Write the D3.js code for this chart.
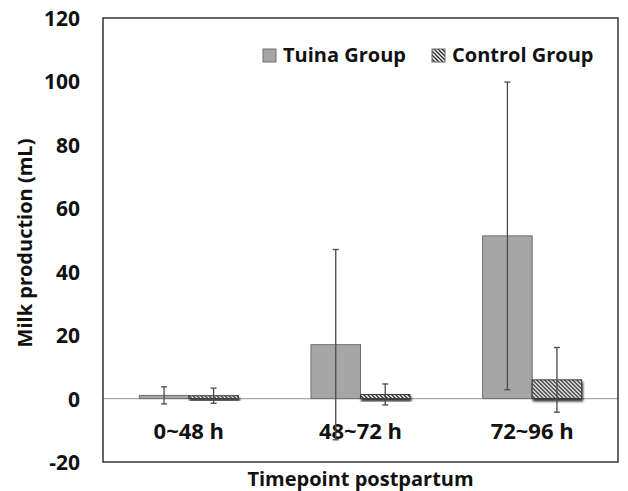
<!DOCTYPE html>
<html>
<head>
<meta charset="utf-8">
<script src="https://cdn.jsdelivr.net/npm/d3@7"></script>
<style>
  body { margin: 0; background: #fff; }
  svg text { font-family: "Open Sans", "Noto Sans", sans-serif; font-weight: bold; fill: #111; }
</style>
</head>
<body>
<svg width="628" height="491"></svg>
<script>
var categories = ["0~48 h", "48~72 h", "72~96 h"];
var groups = ["Tuina Group", "Control Group"];
var tuinaMean = [1.0, 17.0, 51.3];
var tuinaSD = [2.7, 30.0, 48.5];
var controlMean = [0.9, 1.3, 5.9];
var controlSD = [2.4, 3.3, 10.2];
var yTicks = [-20, 0, 20, 40, 60, 80, 100, 120];

var svg = d3.select("svg"),
    margin = {top: 18, right: 10, bottom: 29, left: 103},
    width = +svg.attr("width") - margin.left - margin.right,
    height = +svg.attr("height") - margin.top - margin.bottom;

var defs = svg.append("defs");

// diagonal hatch for the control bars
var hatch = defs.append("pattern")
    .attr("id", "hatch")
    .attr("patternUnits", "userSpaceOnUse")
    .attr("width", 4)
    .attr("height", 4);
hatch.append("rect").attr("width", 4).attr("height", 4).attr("fill", "#fff");
hatch.append("path")
    .attr("d", "M-1,-1 L5,5 M3,-1 L5,1 M-1,3 L1,5")
    .attr("stroke", "#2a2a2a")
    .attr("stroke-width", 1.4);

var shadow = defs.append("filter")
    .attr("id", "shadow")
    .attr("x", "-20%").attr("y", "-20%")
    .attr("width", "140%").attr("height", "180%");
shadow.append("feDropShadow")
    .attr("dx", 1).attr("dy", 2.5)
    .attr("stdDeviation", 1)
    .attr("flood-color", "#000")
    .attr("flood-opacity", 0.8);

var x0 = d3.scaleBand()
    .domain(categories)
    .range([0, width])
    .paddingInner(0.423)
    .paddingOuter(0.2115);

var x1 = d3.scaleBand()
    .domain(groups)
    .range([0, x0.bandwidth()]);

var y = d3.scaleLinear()
    .domain([-20, 120])
    .range([height, 0]);

var g = svg.append("g")
    .attr("transform", "translate(" + margin.left + "," + margin.top + ")");

// y axis labels (no tick marks), plain hyphen for negatives
var yAxis = d3.axisLeft(y)
    .tickValues(yTicks)
    .tickFormat(function(d) { return String(d); })
    .tickSize(0)
    .tickPadding(23);
g.append("g")
    .attr("class", "axis axis--y")
    .call(yAxis)
    .call(function(s) { s.select(".domain").remove(); })
    .selectAll("text")
    .style("font-size", "21px")
    .attr("dy", "0.36em");

// zero line
g.append("line")
    .attr("x1", 0).attr("x2", width)
    .attr("y1", y(0)).attr("y2", y(0))
    .attr("stroke", "#a8a8a8")
    .attr("stroke-width", 1.3);

var rows = categories.map(function(c, i) {
  return [
    {cat: c, group: groups[0], mean: tuinaMean[i], sd: tuinaSD[i]},
    {cat: c, group: groups[1], mean: controlMean[i], sd: controlSD[i]}
  ];
});

// category labels
g.append("g")
    .selectAll("text")
    .data(categories)
    .enter().append("text")
    .attr("x", function(d) { return x0(d) + x0.bandwidth() / 2; })
    .attr("y", y(0) + 40)
    .attr("text-anchor", "middle")
    .style("font-size", "22px")
    .text(function(d) { return d; });

var cat = g.selectAll(".cat")
    .data(rows)
    .enter().append("g")
    .attr("class", "cat")
    .attr("transform", function(d) { return "translate(" + x0(d[0].cat) + ",0)"; });

cat.selectAll("rect")
    .data(function(d) { return d; })
    .enter().append("rect")
    .attr("x", function(d) { return x1(d.group); })
    .attr("y", function(d) { return y(Math.max(0, d.mean)); })
    .attr("width", x1.bandwidth())
    .attr("height", function(d) { return Math.abs(y(d.mean) - y(0)); })
    .attr("fill", function(d) { return d.group === groups[0] ? "#a6a6a6" : "url(#hatch)"; })
    .attr("stroke", function(d) { return d.group === groups[0] ? "#6e6e6e" : "#3a3a3a"; })
    .attr("stroke-width", 1)
    .attr("filter", function(d) { return d.group === groups[1] ? "url(#shadow)" : null; });

// error bars
var err = cat.selectAll(".err")
    .data(function(d) { return d; })
    .enter().append("g")
    .attr("class", "err")
    .attr("stroke", "#4a4a4a")
    .attr("stroke-width", 1.3);

err.append("line")
    .attr("x1", function(d) { return x1(d.group) + x1.bandwidth() / 2; })
    .attr("x2", function(d) { return x1(d.group) + x1.bandwidth() / 2; })
    .attr("y1", function(d) { return y(d.mean + d.sd); })
    .attr("y2", function(d) { return y(d.mean - d.sd); });

[1, -1].forEach(function(sign) {
  err.append("line")
      .attr("x1", function(d) { return x1(d.group) + x1.bandwidth() / 2 - 3; })
      .attr("x2", function(d) { return x1(d.group) + x1.bandwidth() / 2 + 3; })
      .attr("y1", function(d) { return y(d.mean + sign * d.sd); })
      .attr("y2", function(d) { return y(d.mean + sign * d.sd); });
});

// plot frame
g.append("rect")
    .attr("width", width)
    .attr("height", height)
    .attr("fill", "none")
    .attr("stroke", "#333")
    .attr("stroke-width", 1.5);

// legend
var legend = g.append("g").attr("class", "legend");
var legendX = [160, 329];
legend.selectAll("rect")
    .data(groups)
    .enter().append("rect")
    .attr("x", function(d, i) { return legendX[i]; })
    .attr("y", 31)
    .attr("width", 13)
    .attr("height", 13)
    .attr("fill", function(d, i) { return i === 0 ? "#a6a6a6" : "url(#hatch)"; })
    .attr("stroke", function(d, i) { return i === 0 ? "#6e6e6e" : "#666"; })
    .attr("stroke-width", 1);
legend.selectAll("text")
    .data(groups)
    .enter().append("text")
    .attr("x", function(d, i) { return legendX[i] + 20; })
    .attr("y", 44)
    .style("font-size", "20px")
    .text(function(d) { return d; });

// axis titles
svg.append("text")
    .attr("x", margin.left + width / 2)
    .attr("y", 486)
    .attr("text-anchor", "middle")
    .style("font-size", "20px")
    .text("Timepoint postpartum");

svg.append("text")
    .attr("transform", "translate(32," + (margin.top + 225) + ") rotate(-90)")
    .attr("text-anchor", "middle")
    .style("font-size", "20px")
    .text("Milk production (mL)");
</script>
</body>
</html>
